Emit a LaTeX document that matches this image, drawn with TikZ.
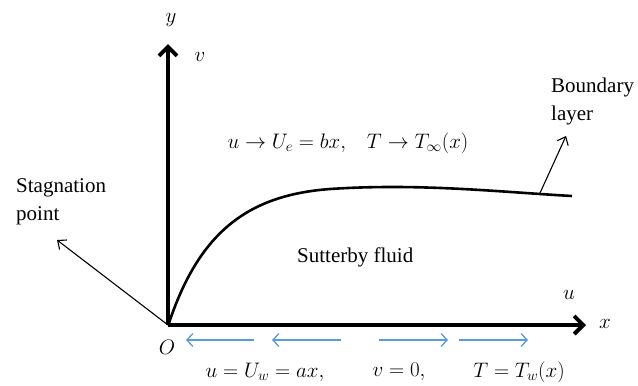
\RequirePackage{fix-cm}
\documentclass[tikz,border=0pt]{standalone}
\usepackage{fontspec}
\setmainfont{Liberation Serif}
\usetikzlibrary{arrows.meta}
\definecolor{flowblue}{RGB}{91,155,213}
\begin{document}
\begin{tikzpicture}[x=1pt,y=-1pt,
  axis/.style={line width=4.5pt,-{Straight Barb[length=9pt,width=18pt,line width=4pt]}},
  curveline/.style={line width=2.6pt},
  pointer/.style={line width=1.1pt,-{Straight Barb[length=7pt,width=12pt,line width=1.1pt]}},
  wallflow/.style={flowblue,line width=1.4pt,-{Straight Barb[length=6pt,width=13pt,line width=1.3pt]}},
  lbl/.style={inner sep=0pt,font=\fontsize{21}{27}\selectfont},
  txt/.style={inner sep=0pt,align=left,font=\fontsize{21}{28}\selectfont}]
\useasboundingbox (0,0) rectangle (638,386);
% axes
\coordinate (O) at (168,325);
\coordinate (ytip) at (168,44);
\coordinate (xtip) at (586,325);
\draw[axis] (O) -- (ytip);
\draw[axis] (O) -- (xtip);
% boundary layer curve
\draw[curveline] (169,323) .. controls (200,230) and (250,195) .. (330,189)
  .. controls (420,183) and (500,192) .. (572,196);
\coordinate (bl) at (540,193);
\coordinate (bltip) at (566,136);
\draw[pointer] (bl) -- (bltip);
\coordinate (sptip) at (57,240);
\draw[pointer] (O) -- (sptip);
% wall velocity arrows
\coordinate (a1s) at (254,340); \coordinate (a1e) at (186,340);
\coordinate (a2s) at (341,340); \coordinate (a2e) at (272,340);
\coordinate (a3s) at (379,340); \coordinate (a3e) at (448,340);
\coordinate (a4s) at (459,340); \coordinate (a4e) at (528,340);
\draw[wallflow] (a1s) -- (a1e);
\draw[wallflow] (a2s) -- (a2e);
\draw[wallflow] (a3s) -- (a3e);
\draw[wallflow] (a4s) -- (a4e);
% labels
\node[lbl] (ylab) at (171,20) {$y$};
\node[lbl] (vlab) at (200,57) {$v$};
\node[lbl] (ulab) at (569,295) {$u$};
\node[lbl] (xlab) at (605,324) {$x$};
\node[lbl] (olab) at (167,347) {$O$};
\node[lbl] (top) at (348,143) {$u\rightarrow U_e=bx,\;\;\; T\rightarrow T_\infty(x)$};
\node[lbl] (bot1) at (265,372) {$u=U_w=ax,$};
\node[lbl] (bot2) at (399,372) {$v=0,$};
\node[lbl] (bot3) at (519,372) {$T=T_w(x)$};
\node[txt,anchor=west] (fluid) at (297,257) {Sutterby fluid};
\node[txt,anchor=west] (stag) at (16,202) {Stagnation\\point};
\node[txt,anchor=west] (blayer) at (551,101) {Boundary\\layer};
\end{tikzpicture}
\end{document}
